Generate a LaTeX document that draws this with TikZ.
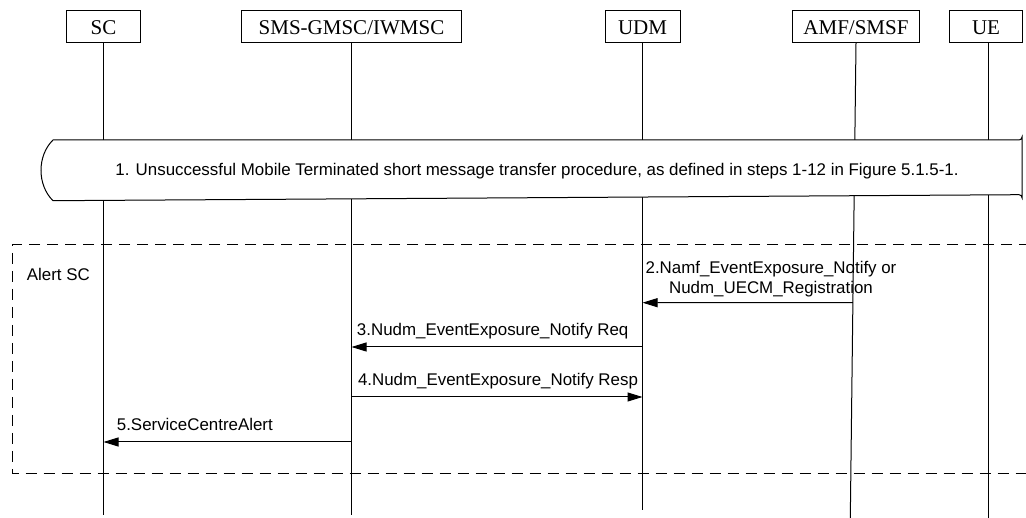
\documentclass[tikz,border=0pt]{standalone}
\usepackage{fontspec}
\setmainfont{Liberation Serif}
\newfontfamily\arialfont{Liberation Sans}
\usetikzlibrary{arrows.meta,calc}
\tikzset{
  entity/.style={draw,line width=1pt,fill=white,inner sep=0pt,font=\fontsize{21}{25}\selectfont},
  entitytext/.style={inner sep=0pt,anchor=base,font=\fontsize{21}{25}\selectfont},
  lifeline/.style={line width=1pt},
  msg/.style={line width=1pt,-{Triangle[length=15pt,width=9pt]}},
  lbl/.style={inner sep=0pt,font=\arialfont\fontsize{16.9}{20}\selectfont},
  groupbox/.style={line width=1pt,dash pattern=on 11pt off 7pt}
}
\begin{document}
\begin{tikzpicture}[x=1pt,y=-1pt]
\useasboundingbox (0,0) rectangle (1026,518);
% entity boxes
\node[entity,minimum width=74pt,minimum height=32pt] (sc) at (103.5,26.7) {};
\node[entity,minimum width=220pt,minimum height=32pt] (gmsc) at (351.5,26.7) {};
\node[entity,minimum width=75pt,minimum height=32pt] (udm) at (642.5,26.7) {};
\node[entity,minimum width=126.6pt,minimum height=32pt] (amf) at (856,26.7) {};
\node[entity,minimum width=73.7pt,minimum height=32pt] (ue) at (986,26.7) {};
\node[entitytext] (tsc) at (103.5,34.6) {SC};
\node[entitytext] (tgmsc) at (351.5,34.6) {SMS-GMSC/IWMSC};
\node[entitytext] (tudm) at (642.5,34.6) {UDM};
\node[entitytext] (tamf) at (856,34.6) {AMF/SMSF};
\node[entitytext] (tue) at (986,34.6) {UE};
% lifeline ends
\coordinate (scEnd) at (103.5,515);
\coordinate (gmscEnd) at (351.5,515);
\coordinate (udmEnd) at (642.5,510);
\coordinate (amfEnd) at (850.3,518);
\coordinate (ueEnd) at (988,518);
\draw[lifeline] (sc.south) -- (scEnd);
\draw[lifeline] (gmsc.south) -- (gmscEnd);
\draw[lifeline] (udm.south) -- (udmEnd);
\draw[lifeline] (amf.south) -- (amfEnd);
\draw[lifeline] (ue.south -| ueEnd) -- (ueEnd);
% step 1
\draw[line width=1pt,fill=white] (53,140) -- (1019,140) arc[start angle=90,end angle=0,radius=3] -- (1022,197.7) arc[start angle=0,end angle=-90,radius=3] -- (53,200.7) .. controls (37,185) and (37,155.7) .. (53,140) -- cycle;
\node[lbl,anchor=base] (s1) at (537,176) {1. Unsuccessful Mobile Terminated short message transfer procedure, as defined in steps 1-12 in Figure 5.1.5-1.};
% group box
\coordinate (gTL) at (12.3,244.7);
\coordinate (gBL) at (12.3,473.7);
\coordinate (gTR) at (1030,244.7);
\coordinate (gBR) at (1030,473.7);
\draw[groupbox] (gTR) -- (gTL) -- (gBL) -- (gBR);
\node[lbl,anchor=base west] (alert) at (26.7,281) {Alert SC};
% message endpoints
\coordinate (m2a) at (intersection of amf.south--amfEnd and 0,302.7--1,302.7);
\coordinate (m2b) at (udm.south |- 0,302.7);
\coordinate (m3a) at (udm.south |- 0,347);
\coordinate (m3b) at (gmsc.south |- 0,347);
\coordinate (m4a) at (gmsc.south |- 0,397);
\coordinate (m4b) at (udm.south |- 0,397);
\coordinate (m5a) at (gmsc.south |- 0,442);
\coordinate (m5b) at (sc.south |- 0,442);
\draw[msg] (m2a) -- (m2b);
\draw[msg] (m3a) -- (m3b);
\draw[msg] (m4a) -- (m4b);
\draw[msg] (m5a) -- (m5b);
\node[lbl,anchor=base,align=center] (l2) at (771,293.2) {2.Namf\_EventExposure\_Notify or\\Nudm\_UECM\_Registration};
\node[lbl,anchor=base] (l3) at (492.7,335.2) {3.Nudm\_EventExposure\_Notify Req};
\node[lbl,anchor=base] (l4) at (498,385.2) {4.Nudm\_EventExposure\_Notify Resp};
\node[lbl,anchor=base west] (l5) at (116.7,430.2) {5.ServiceCentreAlert};
\end{tikzpicture}
\end{document}
